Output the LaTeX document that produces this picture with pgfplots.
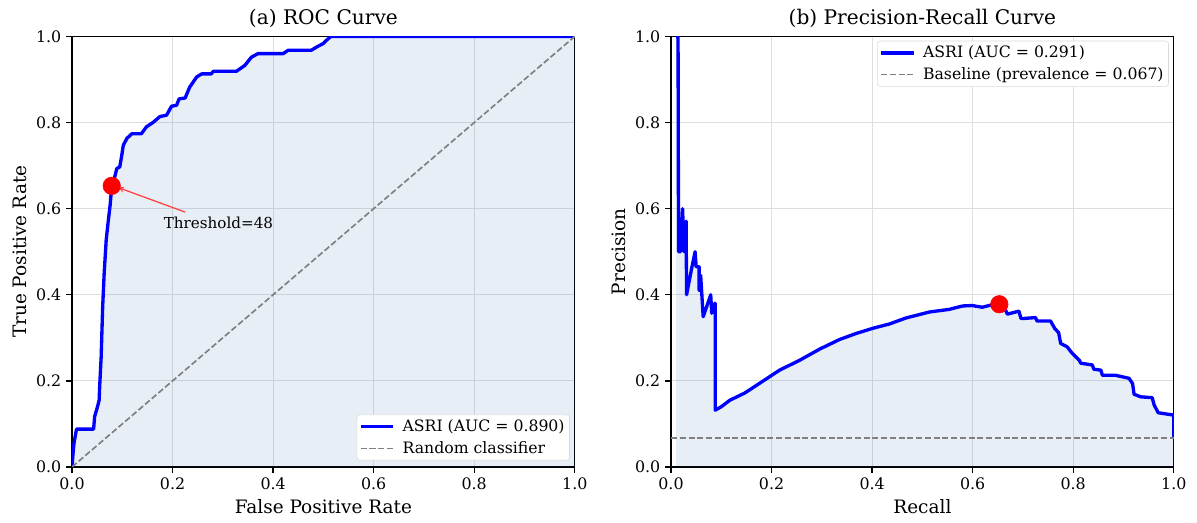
\documentclass[border=0pt]{standalone}
\usepackage{fontspec}
\setmainfont{DejaVu Serif}
\usepackage{pgfplots}
\pgfplotsset{compat=1.18}
\usepackage{pgfplotstable}

\definecolor{fillblue}{RGB}{30,90,170}
\definecolor{gridgray}{RGB}{222,222,222}

\pgfplotstableread{
fpr tpr
0 0
0.002 0.03
0.004 0.056
0.009 0.088
0.043 0.088
0.045 0.117
0.050 0.137
0.054 0.155
0.055 0.186
0.058 0.256
0.061 0.372
0.064 0.45
0.068 0.527
0.072 0.57
0.076 0.61
0.079 0.653
0.083 0.665
0.085 0.674
0.089 0.693
0.095 0.697
0.099 0.724
0.102 0.747
0.109 0.763
0.119 0.774
0.138 0.774
0.148 0.790
0.162 0.801
0.175 0.814
0.188 0.817
0.198 0.838
0.208 0.840
0.213 0.855
0.225 0.857
0.234 0.882
0.248 0.906
0.258 0.913
0.277 0.913
0.281 0.919
0.327 0.919
0.344 0.933
0.357 0.952
0.370 0.960
0.420 0.960
0.430 0.968
0.476 0.968
0.489 0.977
0.499 0.983
0.506 0.991
0.515 1.0
1.0 1.0
}\roc

\pgfplotstableread{
rec prec
0.010 1.0
0.014 1.0
0.015 0.5
0.019 0.5
0.023 0.6
0.026 0.5
0.030 0.571
0.031 0.40
0.041 0.461
0.048 0.5
0.050 0.465
0.056 0.465
0.056 0.41
0.059 0.445
0.064 0.349
0.079 0.40
0.081 0.357
0.087 0.380
0.088 0.38
0.088 0.132
0.100 0.14
0.117 0.155
0.147 0.172
0.177 0.195
0.216 0.225
0.256 0.248
0.296 0.274
0.335 0.296
0.368 0.310
0.401 0.322
0.434 0.332
0.467 0.346
0.514 0.360
0.553 0.366
0.580 0.374
0.599 0.375
0.619 0.371
0.636 0.376
0.653 0.378
0.666 0.363
0.669 0.355
0.692 0.362
0.696 0.345
0.702 0.345
0.725 0.347
0.728 0.339
0.755 0.339
0.763 0.322
0.771 0.312
0.775 0.287
0.788 0.279
0.798 0.264
0.812 0.248
0.815 0.241
0.838 0.237
0.841 0.227
0.855 0.225
0.858 0.213
0.884 0.213
0.911 0.206
0.918 0.194
0.921 0.169
0.934 0.163
0.957 0.161
0.961 0.144
0.969 0.126
0.997 0.121
1.0 0.121
1.0 0.067
}\pr

\pgfplotsset{
  panel/.style={
    scale only axis, width=362pt, height=310pt,
    anchor=south west,
    xmin=0, xmax=1, ymin=0, ymax=1,
    xtick={0,0.2,...,1.0}, ytick={0,0.2,...,1.0},
    tick label style={font=\fontsize{11.4}{13}\selectfont},
    /pgf/number format/assume math mode=true,
    /pgf/number format/.cd, fixed, fixed zerofill, precision=1, /pgfplots/.cd,
    label style={font=\fontsize{13.3}{15}\selectfont},
    title style={font=\fontsize{14.5}{16}\selectfont, yshift=-3pt},
    tick align=outside, major tick length=4.2pt,
    xtick pos=bottom, ytick pos=left,
    axis line style={line width=1pt},
    tick style={line width=1pt, black},
    grid=major, major grid style={gridgray, line width=0.7pt},
    legend cell align=left,
    legend style={font=\fontsize{11.3}{13}\selectfont, draw=black!15, rounded corners=2pt, inner sep=1.5pt, row sep=1.5pt},
    legend image code/.code={\draw[#1] (0cm,0cm) -- (0.82cm,0cm); \path (0.95cm,0cm);},
  },
  mpldash/.style={gray, line width=1.2pt, dash pattern=on 4.4pt off 1.9pt},
}

\begin{document}
\begin{tikzpicture}
\begin{axis}[panel, at={(0,0)},
  title={(a) ROC Curve},
  xlabel={False Positive Rate}, ylabel={True Positive Rate},
  legend style={at={(0.99,0.015)}, anchor=south east}]
  \addplot[draw=none, fill=fillblue, fill opacity=0.1, forget plot] table {\roc} \closedcycle;
  \addplot[blue, line width=2.4pt, line join=round] table {\roc};
  \addlegendentry{ASRI (AUC = 0.890)}
  \addplot[mpldash] coordinates {(0,0) (1,1)};
  \addlegendentry{Random classifier}
  \addplot[only marks, mark=*, mark size=6.3pt, red, forget plot] coordinates {(0.079,0.653)};
  \draw[-stealth, red!75, line width=0.9pt] (axis cs:0.225,0.592) -- (axis cs:0.092,0.649);
  \node[anchor=west, font=\fontsize{10.9}{12}\selectfont] at (axis cs:0.173,0.566) {Threshold=48};
\end{axis}
\begin{axis}[panel, at={(431.28pt,0)},
  title={(b) Precision-Recall Curve},
  xlabel={Recall}, ylabel={Precision},
  legend style={at={(0.99,0.99)}, anchor=north east}]
  \addplot[draw=none, fill=fillblue, fill opacity=0.1, forget plot] table {\pr} \closedcycle;
  \addplot[blue, line width=2.4pt, line join=round] table {\pr};
  \addlegendentry{ASRI (AUC = 0.291)}
  \addplot[mpldash] coordinates {(0,0.067) (1,0.067)};
  \addlegendentry{Baseline (prevalence = 0.067)}
  \addplot[only marks, mark=*, mark size=6.3pt, red, forget plot] coordinates {(0.653,0.378)};
\end{axis}
\pgfresetboundingbox
\useasboundingbox (-51.84pt,-40.32pt) rectangle (810pt,336.24pt);
\end{tikzpicture}
\end{document}
